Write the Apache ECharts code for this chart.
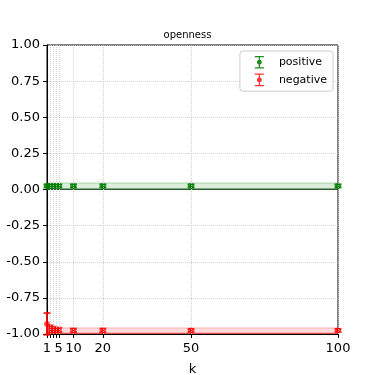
<!DOCTYPE html>
<html>
<head>
<meta charset="utf-8">
<script src="https://cdn.jsdelivr.net/npm/echarts@6/dist/echarts.min.js"></script>
<style>
  html, body { margin: 0; padding: 0; background: #fff; }
  #chart { width: 375px; height: 375px; }
</style>
</head>
<body>
<div id="chart"></div>
<script>
// k values and labelled ticks
const kValues = [1, 2, 3, 4, 5, 10, 20, 50, 100]
const kLabels = [1, 5, 10, 20, 50, 100]

// positive series (mean, error)
const posMean = [0.025, 0.025, 0.025, 0.025, 0.025, 0.025, 0.025, 0.025, 0.025]
const posErr = [0.01, 0.01, 0.01, 0.01, 0.01, 0.01, 0.01, 0.01, 0.01]
const posBandLow = 0.0
const posBandHigh = 0.045
const posLine = 0.002

// negative series (mean, error)
const negMean = [-0.93, -0.965, -0.97, -0.972, -0.972, -0.975, -0.975, -0.975, -0.975]
const negErr = [0.075, 0.025, 0.02, 0.015, 0.015, 0.012, 0.012, 0.01, 0.01]
const negBandLow = -1.0
const negBandHigh = -0.958
const negLine = -0.996

const GREEN = 'rgba(0,128,0,0.9)'
const RED = 'rgba(255,0,0,0.8)'
const FONT = 'DejaVu Sans'

const errIcon = 'path://M0,0H10V1.4H0Z M0,12.6H10V14H0Z M4.3,0H5.7V14H4.3Z M5,4.3A2.7,2.7,0,1,1,4.99,4.3Z'

function errData (mean, err) {
  return kValues.map((k, i) => [k, mean[i] - err[i], mean[i] + err[i]])
}

function renderErr (color) {
  return function (params, api) {
    const x = api.value(0)
    const lo = api.coord([x, api.value(1)])
    const hi = api.coord([x, api.value(2)])
    const w = 3.5
    const style = { stroke: color, lineWidth: 2 }
    return {
      type: 'group',
      children: [
        { type: 'line', shape: { x1: lo[0], y1: lo[1], x2: hi[0], y2: hi[1] }, style },
        { type: 'line', shape: { x1: lo[0] - w, y1: lo[1], x2: lo[0] + w, y2: lo[1] }, style },
        { type: 'line', shape: { x1: hi[0] - w, y1: hi[1], x2: hi[0] + w, y2: hi[1] }, style }
      ]
    }
  }
}

function flat (v) {
  return kValues.map(k => [k, v])
}

const chart = echarts.init(document.getElementById('chart'))
chart.setOption({
  animation: false,
  title: {
    text: 'openness',
    left: 'center',
    top: 25,
    textStyle: { fontFamily: FONT, fontSize: 10, fontWeight: 'normal', color: '#000' }
  },
  legend: {
    right: 42,
    top: 51,
    orient: 'vertical',
    data: [
      { name: 'positive', icon: errIcon, itemStyle: { color: GREEN } },
      { name: 'negative', icon: errIcon, itemStyle: { color: RED } }
    ],
    itemWidth: 9,
    itemHeight: 13,
    itemGap: 5,
    padding: [5, 6, 5, 15],
    borderColor: '#ccc',
    borderWidth: 1,
    borderRadius: 3,
    backgroundColor: 'rgba(255,255,255,0.8)',
    textStyle: { fontFamily: FONT, fontSize: 11, color: '#000', padding: [0, 0, 0, 10] }
  },
  grid: {
    left: 47, right: 37, top: 45, bottom: 41,
    outerBoundsMode: 'none',
    containLabel: false,
    show: true, borderColor: '#000', borderWidth: 1, backgroundColor: 'transparent'
  },
  xAxis: {
    type: 'value',
    min: 1,
    max: 100,
    name: 'k',
    nameLocation: 'middle',
    nameGap: 29,
    nameTextStyle: { fontFamily: FONT, fontSize: 13, color: '#000' },
    axisLine: { show: true, onZero: false, lineStyle: { color: '#000' } },
    axisTick: { show: true, customValues: kValues, length: 4, lineStyle: { color: '#000' } },
    axisLabel: { customValues: kLabels, fontFamily: FONT, fontSize: 13, color: '#000', margin: 8 },
    splitLine: { show: false }
  },
  yAxis: {
    type: 'value',
    min: -1,
    max: 1,
    interval: 0.25,
    axisLine: { show: true, onZero: false, lineStyle: { color: '#000' } },
    axisTick: { show: true, length: 4, lineStyle: { color: '#000' } },
    axisLabel: { fontFamily: FONT, fontSize: 13, color: '#000', margin: 7, formatter: v => v.toFixed(2) },
    splitLine: { show: true, lineStyle: { color: '#c8c8c8', type: [1, 1], width: 0.8 } }
  },
  series: [
    {
      name: 'posBand',
      type: 'line',
      data: flat(posBandHigh),
      symbol: 'none',
      lineStyle: { color: 'rgba(0,128,0,0.25)', width: 1 },
      areaStyle: { color: 'rgba(0,128,0,0.2)', origin: posBandLow },
      silent: true,
      markLine: {
        silent: true,
        symbol: 'none',
        label: { show: false },
        lineStyle: { color: '#c8c8c8', type: [1, 1], width: 0.8 },
        data: kValues.slice(1).map(k => ({ xAxis: k }))
      },
      z: 1
    },
    {
      name: 'negBand',
      type: 'line',
      data: flat(negBandHigh),
      symbol: 'none',
      lineStyle: { color: 'rgba(255,0,0,0.25)', width: 1 },
      areaStyle: { color: 'rgba(255,0,0,0.2)', origin: negBandLow },
      silent: true,
      z: 1
    },
    {
      name: 'posLine',
      type: 'line',
      data: flat(posLine),
      symbol: 'none',
      lineStyle: { color: '#2c5e2c', width: 1.5 },
      silent: true,
      z: 2
    },
    {
      name: 'negLine',
      type: 'line',
      data: flat(negLine),
      symbol: 'none',
      lineStyle: { color: '#e05050', width: 1.2 },
      silent: true,
      z: 2
    },
    {
      name: 'positive',
      type: 'custom',
      renderItem: renderErr(GREEN),
      data: errData(posMean, posErr),
      encode: { x: 0, y: [1, 2] },
      itemStyle: { color: GREEN },
      z: 3
    },
    {
      name: 'positive',
      type: 'scatter',
      data: kValues.map((k, i) => [k, posMean[i]]),
      symbolSize: 6,
      itemStyle: { color: GREEN },
      z: 4
    },
    {
      name: 'negative',
      type: 'custom',
      renderItem: renderErr(RED),
      data: errData(negMean, negErr),
      encode: { x: 0, y: [1, 2] },
      itemStyle: { color: RED },
      z: 3
    },
    {
      name: 'negative',
      type: 'scatter',
      data: kValues.map((k, i) => [k, negMean[i]]),
      symbolSize: 6,
      itemStyle: { color: RED },
      z: 4
    }
  ]
})
</script>
</body>
</html>
